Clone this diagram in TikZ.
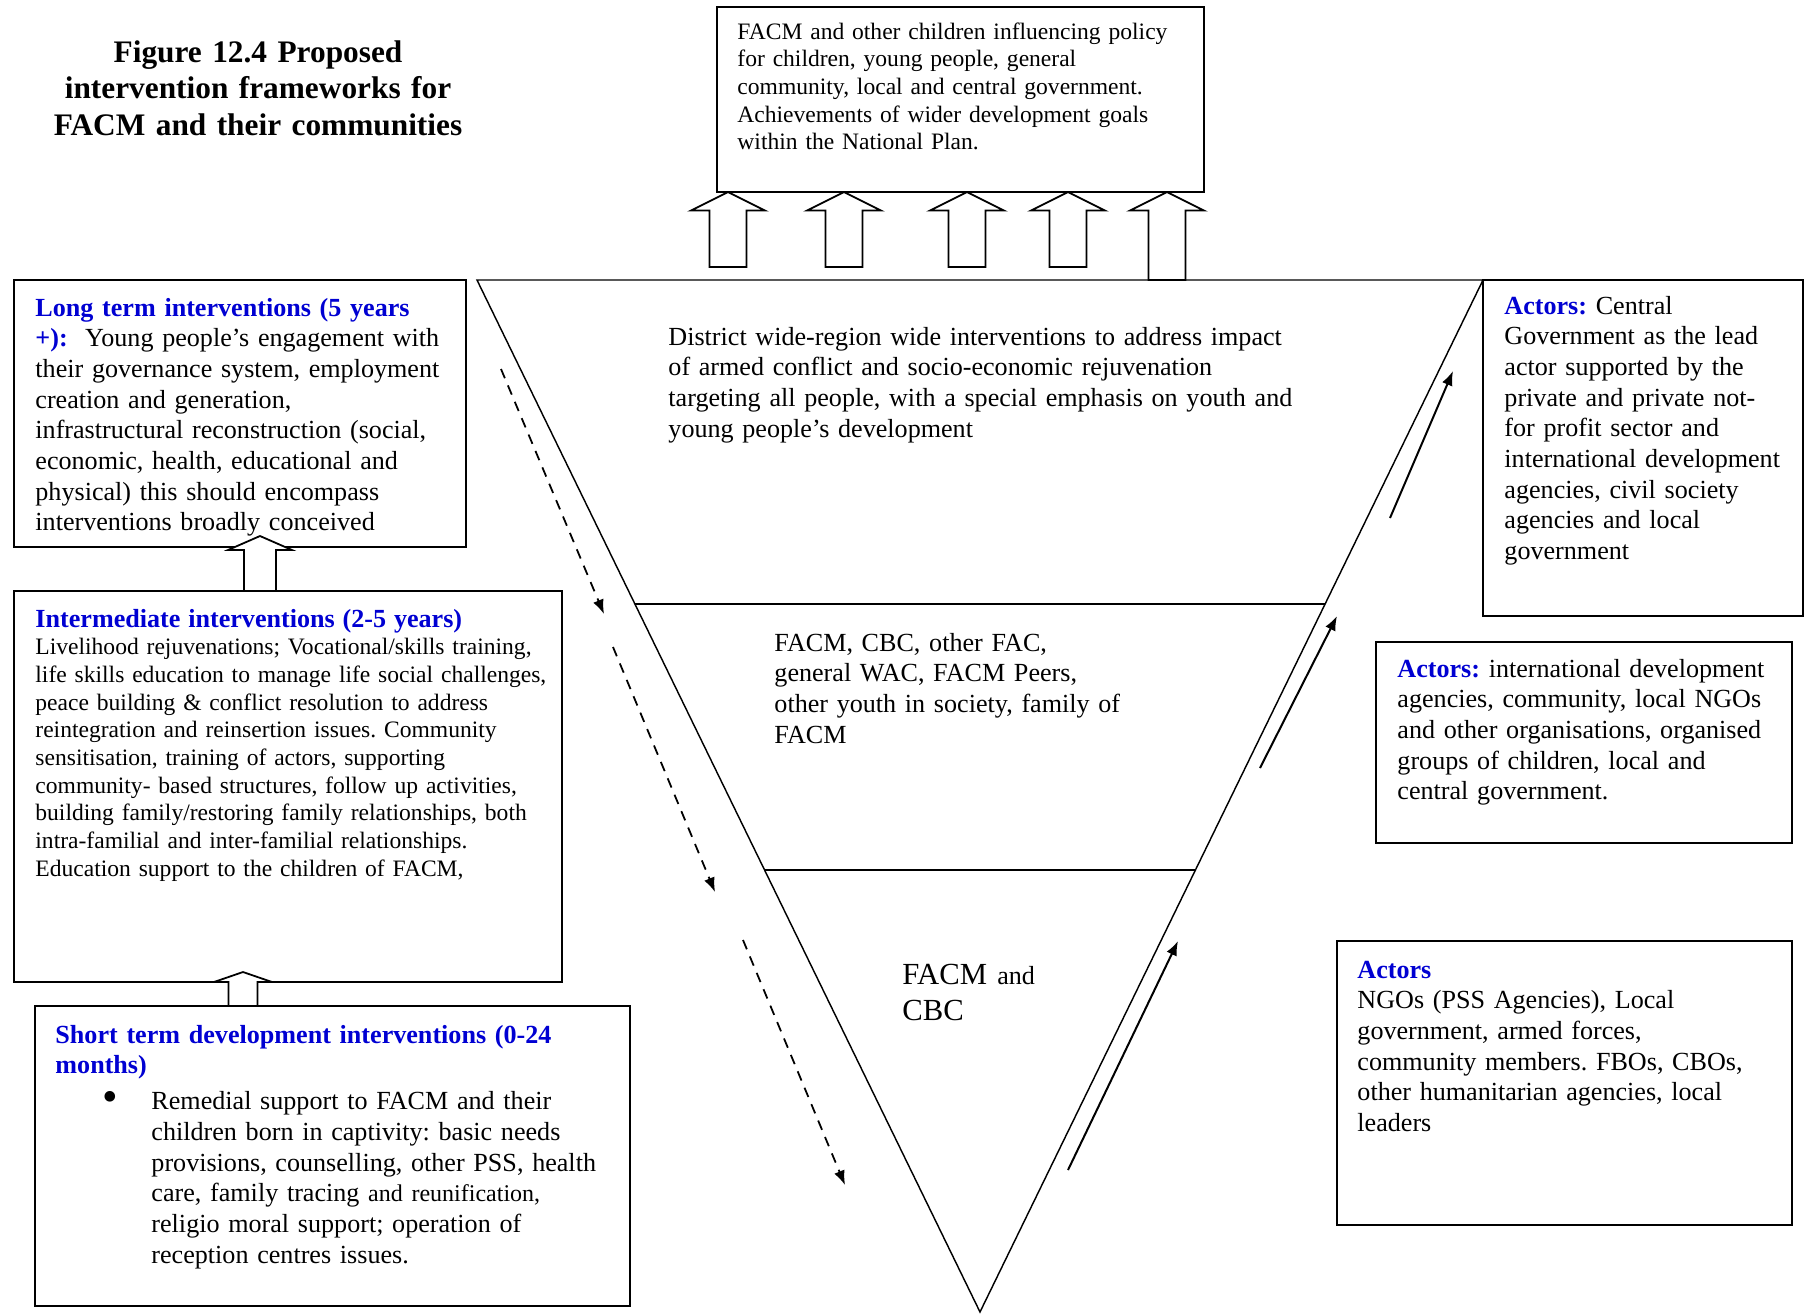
\documentclass[tikz,border=0pt]{standalone}
\usepackage{fontspec}
\setmainfont{Liberation Serif}
\usetikzlibrary{arrows.meta,calc,fit,positioning}

\definecolor{hdblue}{RGB}{0,0,210}
\newcommand{\hd}[1]{{\color{hdblue}\bfseries #1}}
\newcommand{\fsn}{\fontsize{11.75}{13.8}\selectfont}
\newcommand{\fss}{\fontsize{10.6}{12.45}\selectfont}
% hollow block arrow pointing up: x, tip y, bottom y, half shaft, head depth
\newcommand{\blockup}[5]{%
  \draw[hollow] (#1,#2) -- (#1+2*#4,#2+#5) -- (#1+#4,#2+#5) -- (#1+#4,#3)
    -- (#1-#4,#3) -- (#1-#4,#2+#5) -- (#1-2*#4,#2+#5) -- cycle;}

\tikzset{
  panel/.style={draw, line width=0.8pt, inner sep=0pt},
  body/.style={anchor=base west, inner sep=0pt, align=left, text width=#1},
  tri/.style={line width=0.65pt},
  hollow/.style={draw, fill=white, line width=0.8pt},
  dasharr/.style={dash pattern=on 4.5pt off 3.5pt, line width=0.8pt, -{Latex[length=6.5pt,width=5pt]}},
  solidarr/.style={line width=0.9pt, -{Latex[length=6.5pt,width=5pt]}},
}
\frenchspacing

\begin{document}
\begin{tikzpicture}[x=0.45pt, y=-0.45pt]
  \useasboundingbox (0,0) rectangle (1807,1315);

  % title
  \node[body=195pt, anchor=base, align=center, font=\fontsize{14.1}{16.6}\selectfont\bfseries] (title) at (258,62)
    {Figure 12.4 Proposed\\ intervention frameworks for\\ FACM and their communities};

  % policy box on top
  \node[panel, fit={(717,7) (1204,192)}] (policy) {};
  \node[body=230pt, font=\fss] (policytxt) at (737,39)
    {FACM and other children influencing policy\\ for children, young people, general\\
     community, local and central government.\\ Achievements of wider development goals\\
     within the National Plan.};

  % inverted triangle
  \coordinate (tl) at (477,280);
  \coordinate (tr) at (1483,280);
  \coordinate (apex) at (980,1312);
  \draw[tri] (tl) -- (tr) -- (apex) -- cycle;
  \draw[tri] ($(tl)!0.314!(apex)$) -- ($(tr)!0.314!(apex)$);
  \draw[tri] ($(tl)!0.5717!(apex)$) -- ($(tr)!0.5717!(apex)$);

  \node[body=290pt, font=\fsn] (district) at (668,345)
    {District wide-region wide interventions to address impact\\ of armed conflict and socio-economic rejuvenation\\
     targeting all people, with a special emphasis on youth and\\ young people’s development};
  \node[body=170pt, font=\fsn] (peers) at (774,651)
    {FACM, CBC, other FAC,\\ general WAC, FACM Peers,\\ other youth in society, family of\\ FACM};
  \node[body=80pt, font=\fontsize{13.8}{16.6}\selectfont] (core) at (902,984)
    {FACM {\fsn and}\\ CBC};

  % hollow arrows into the policy box
  \foreach \cx in {728,844,967,1068}
    \blockup{\cx}{192}{267}{18.5}{18.5};
  \blockup{1167}{192}{280}{18.5}{18.5};

  % left column
  \node[panel, fit={(14,280) (466,547)}] (long) {};
  \node[body=195pt, font=\fsn] (longtxt) at (35,316)
    {\hd{Long term interventions (5 years}\\ \hd{+):}\ \ Young people’s engagement with\\
     their governance system, employment\\ creation and generation,\\
     infrastructural reconstruction (social,\\ economic, health, educational and\\
     physical) this should encompass\\ interventions broadly conceived};

  \node[panel, fit={(14,591) (562,982)}] (mid) {};
  \node[body=245pt, font=\fss] (midtxt) at (35,627)
    {{\fsn\hd{Intermediate interventions (2-5 years)}}\\
     Livelihood rejuvenations; Vocational/skills training,\\
     life skills education to manage life social challenges,\\
     peace building \& conflict resolution to address\\
     reintegration and reinsertion issues. Community\\
     sensitisation, training of actors, supporting\\
     community- based structures, follow up activities,\\
     building family/restoring family relationships, both\\
     intra-familial and inter-familial relationships.\\
     Education support to the children of FACM,};

  \node[panel, fit={(35,1006) (630,1306)}] (short) {};
  \node[body=260pt, font=\fsn] (shorttxt) at (55,1043)
    {\hd{Short term development interventions (0-24}\\ \hd{months)}\\[2.5pt]
     \hspace*{21pt}\makebox[22.2pt][l]{\raisebox{-0.5pt}{\fontsize{20}{13.8}\selectfont\textbullet}}Remedial support to FACM and their\\
     \hspace*{43.2pt}children born in captivity: basic needs\\
     \hspace*{43.2pt}provisions, counselling, other PSS, health\\
     \hspace*{43.2pt}care, family tracing {\fontsize{10.8}{13.8}\selectfont and reunification,}\\
     \hspace*{43.2pt}religio moral support; operation of\\
     \hspace*{43.2pt}reception centres issues.};

  \blockup{260}{536}{591}{16}{14};
  \blockup{243}{972}{1006}{14.5}{10};

  % right column
  \node[panel, fit={(1483,280) (1803,616)}] (gov) {};
  \node[body=135pt, font=\fsn] (govtxt) at (1504,314)
    {\hd{Actors:} Central\\ Government as the lead\\ actor supported by the\\ private and private not-\\
     for profit sector and\\ international development\\ agencies, civil society\\ agencies and local\\ government};

  \node[panel, fit={(1376,642) (1792,843)}] (agency) {};
  \node[body=175pt, font=\fsn] (agencytxt) at (1397,677)
    {\hd{Actors:} international development\\ agencies, community, local NGOs\\
     and other organisations, organised\\ groups of children, local and\\ central government.};

  \node[panel, fit={(1337,941) (1792,1225)}] (ngo) {};
  \node[body=190pt, font=\fsn] (ngotxt) at (1357,978)
    {\hd{Actors}\\ NGOs (PSS Agencies), Local\\ government, armed forces,\\
     community members. FBOs, CBOs,\\ other humanitarian agencies, local\\ leaders};

  % dashed arrows down the left side
  \coordinate (d1s) at (501,369);  \coordinate (d1e) at (604,614);
  \coordinate (d2s) at (613,647);  \coordinate (d2e) at (715,892);
  \coordinate (d3s) at (743,940);  \coordinate (d3e) at (845,1185);
  \foreach \i in {1,2,3}
    \draw[dasharr] (d\i s) -- (d\i e);

  % solid arrows up the right side
  \coordinate (u1s) at (1390,518);  \coordinate (u1e) at (1453,371);
  \coordinate (u2s) at (1260,768);  \coordinate (u2e) at (1337,616);
  \coordinate (u3s) at (1068,1170); \coordinate (u3e) at (1178,941);
  \foreach \i in {1,2,3}
    \draw[solidarr] (u\i s) -- (u\i e);
\end{tikzpicture}
\end{document}
